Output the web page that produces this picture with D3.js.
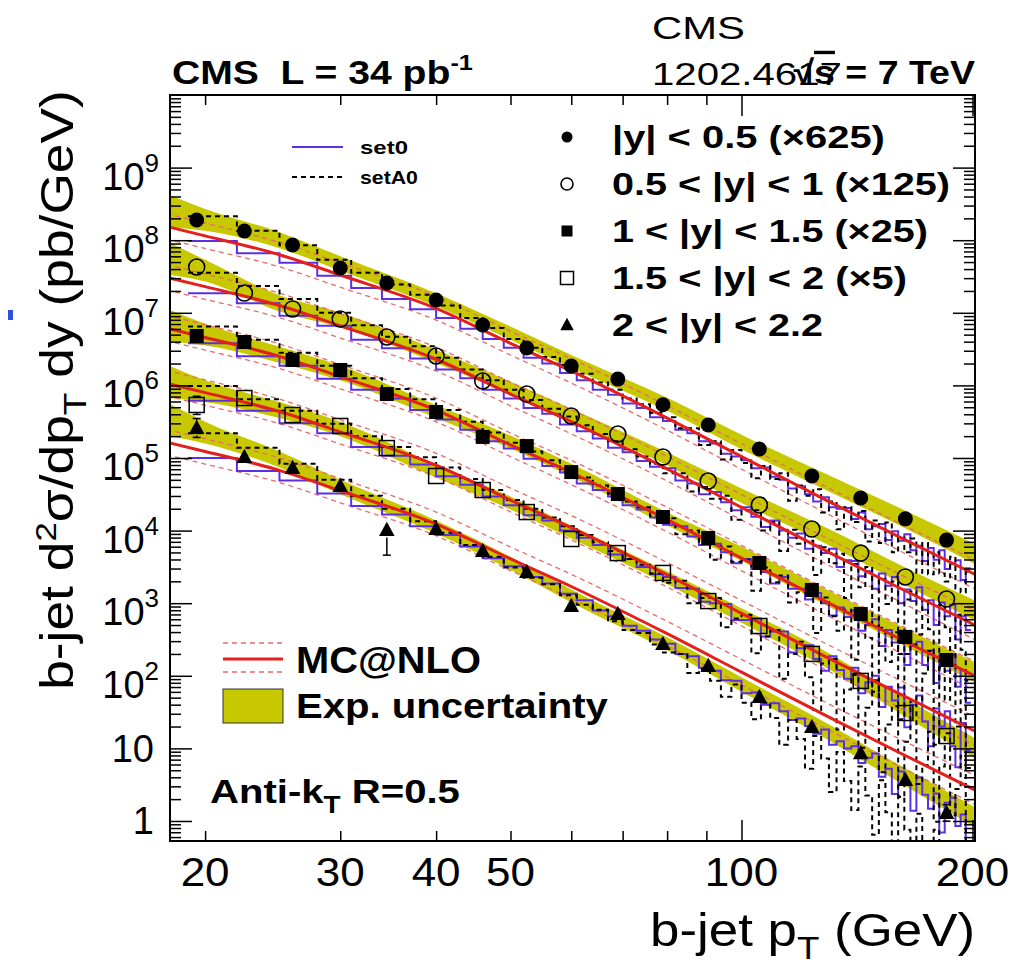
<!DOCTYPE html>
<html><head><meta charset="utf-8">
<script src="https://cdnjs.cloudflare.com/ajax/libs/d3/7.8.5/d3.min.js"></script>
<style>
body{margin:0;background:#fff;}
svg{display:block;}
text{font-family:"Liberation Sans",Arial,Helvetica,sans-serif;fill:#000;}
</style>
</head><body>
<svg id="c" width="1017" height="971"></svg>
<script>
// ---------------- DATA ----------------
// measured b-jet cross sections (pb/GeV, already scaled) at bin centres (GeV)
const binCenters = [19.5,22.5,26,30,34.5,40,46,52.5,60,69,79,90.5,105.5,123.5,143,163.5,185];
const seriesLabels = ["|y| < 0.5 (\u00d7625)","0.5 < |y| < 1 (\u00d7125)","1 < |y| < 1.5 (\u00d725)","1.5 < |y| < 2 (\u00d75)","2 < |y| < 2.2"];
const y1 = [1.9e8,1.34e8,8.6e7,4.14e7,2.57e7,1.5e7,6.8e6,3.27e6,1.85e6,1.22e6,5.4e5,2.85e5,1.33e5,5.65e4,2.81e4,1.45e4,7.4e3];
const y2 = [4.27e7,1.87e7,1.13e7,8.2e6,4.64e6,2.54e6,1.15e6,7.6e5,3.79e5,2.14e5,1.03e5,4.82e4,2.25e4,1.05e4,4.9e3,2.3e3,1.14e3];
const y3 = [4.79e6,3.96e6,2.24e6,1.63e6,7.6e5,4.3e5,1.95e5,1.46e5,6.4e4,3.19e4,1.54e4,7.9e3,3.58e3,1.52e3,710,342,165];
const y4 = [5.37e5,6.7e5,3.91e5,2.76e5,1.37e5,5.65e4,3.62e4,1.8e4,7.66e3,4.9e3,2.61e3,1.07e3,485,200,85,30.7,14.8];
const y5 = [2.59e5,1.03e5,7.3e4,4.11e4,1.02e4,1.05e4,5.24e3,2.69e3,915,710,274,136,51,19.7,8.6,3.67,1.29];
// relative statistical errors (up / down)
const errUp1 = [0.06,0.06,0.06,0.06,0.06,0.06,0.06,0.06,0.06,0.06,0.06,0.06,0.06,0.06,0.08,0.08,0.1];
const errDn1 = [0.06,0.06,0.06,0.06,0.06,0.06,0.06,0.06,0.06,0.06,0.06,0.06,0.06,0.06,0.08,0.08,0.1];
const errUp2 = [0.08,0.06,0.06,0.06,0.06,0.06,0.06,0.06,0.06,0.06,0.06,0.06,0.06,0.07,0.08,0.1,0.12];
const errDn2 = [0.08,0.06,0.06,0.06,0.06,0.06,0.06,0.06,0.06,0.06,0.06,0.06,0.06,0.07,0.08,0.1,0.12];
const errUp3 = [0.1,0.08,0.07,0.07,0.06,0.06,0.06,0.06,0.06,0.06,0.06,0.06,0.07,0.08,0.1,0.12,0.14];
const errDn3 = [0.1,0.08,0.07,0.07,0.06,0.06,0.06,0.06,0.06,0.06,0.06,0.06,0.07,0.08,0.1,0.12,0.14];
const errUp4 = [0.32,0.12,0.1,0.1,0.08,0.08,0.08,0.08,0.08,0.08,0.08,0.08,0.1,0.12,0.15,0.18,0.2];
const errDn4 = [0.26,0.1,0.09,0.09,0.07,0.07,0.07,0.07,0.07,0.07,0.07,0.07,0.09,0.1,0.13,0.15,0.17];
const errUp5 = [0.35,0.25,0.23,0.25,0.26,0.2,0.2,0.15,0.15,0.15,0.15,0.15,0.15,0.18,0.2,0.22,0.3];
const errDn5 = [0.26,0.2,0.19,0.2,0.55,0.17,0.17,0.13,0.13,0.13,0.13,0.13,0.13,0.15,0.17,0.18,0.23];

// smooth curves: nodes in pT (GeV)
const nodePt = [17.8,20,25,30,40,50,60,80,100,130,160,203];
// MC@NLO central prediction, log10(pb/GeV)
const mcLogY1 = [8.19,8.06,7.80,7.52,7.06,6.58,6.20,5.55,5.02,4.40,3.92,3.38];
const mcLogY2 = [7.49,7.36,7.10,6.82,6.36,5.88,5.50,4.85,4.32,3.70,3.22,2.68];
const mcLogY3 = [6.79,6.66,6.40,6.12,5.66,5.18,4.80,4.15,3.62,3.00,2.52,1.98];
const mcLogY4 = [6.03,5.90,5.64,5.36,4.90,4.42,4.04,3.39,2.86,2.24,1.76,1.22];
const mcLogY5 = [5.22,5.09,4.83,4.55,4.09,3.61,3.23,2.58,2.05,1.43,0.95,0.41];
const mcScaleUp = [1.50,1.50,1.48,1.47,1.46,1.46,1.47,1.48,1.50,1.52,1.55,1.58];
const mcScaleDn = [0.67,0.67,0.68,0.68,0.69,0.69,0.68,0.68,0.67,0.66,0.65,0.63];
// experimental uncertainty band: centre log10(pb/GeV) and relative half width
const bandLogY1 = [8.41,8.28,8.00,7.68,7.18,6.72,6.33,5.74,5.22,4.65,4.20,3.66];
const bandLogY2 = [7.76,7.58,7.13,6.90,6.40,5.96,5.59,4.99,4.48,3.91,3.42,2.88];
const bandLogY3 = [6.83,6.70,6.42,6.17,5.64,5.22,4.83,4.16,3.68,3.06,2.58,2.03];
const bandLogY4 = [6.06,5.92,5.66,5.40,4.82,4.38,3.98,3.35,2.83,2.20,1.62,0.98];
const bandLogY5 = [5.54,5.35,4.98,4.60,4.05,3.55,3.10,2.44,1.88,1.22,0.66,0.03];
const bandUnc = [0.70,0.41,0.29,0.26,0.23,0.23,0.23,0.23,0.26,0.29,0.32,0.38];

// MC histograms (3 GeV bins), log10(pb/GeV)
const histEdges = [19,22,25,28,31,34,37,40,43,46,49,52,55,58,61,64,67,70,73,76,79,82,85,88,91,94,97,100,103,106,109,112,115,118,121,124,127,130,133,136,139,142,145,148,151,154,157,160,163,166,169,172,175,178,181,184,187,190,193,196,199];
const set0LogY1 = [7.99,7.82,7.69,7.51,7.34,7.19,7.05,6.93,6.78,6.64,6.52,6.38,6.30,6.17,6.07,5.94,5.87,5.75,5.69,5.56,5.51,5.39,5.34,5.23,5.20,5.06,5.02,4.97,4.86,4.87,4.74,4.70,4.58,4.61,4.50,4.40,4.46,4.32,4.30,4.31,4.16,4.25,4.02,4.06,4.09,3.87,3.99,3.86,3.95,3.73,3.79,3.58,3.76,3.60,3.73,3.47,3.54,3.59,3.32,3.48];
const setA0LogY1 = [8.33,8.13,7.93,7.73,7.55,7.39,7.25,7.10,6.93,6.79,6.64,6.52,6.39,6.28,6.16,6.04,5.94,5.82,5.74,5.62,5.56,5.41,5.41,5.18,5.23,4.98,5.11,4.93,4.72,4.89,4.71,4.79,4.41,4.62,4.48,4.57,4.25,4.40,4.02,4.32,4.12,4.27,3.85,4.14,3.83,4.11,3.70,3.90,3.70,3.89,3.42,3.83,3.40,3.70,3.41,3.30,3.64,3.20,3.15,3.43];
const set0LogY2 = [7.27,7.13,6.96,6.82,6.63,6.51,6.37,6.22,6.10,5.94,5.82,5.69,5.61,5.46,5.37,5.27,5.14,5.08,4.96,4.88,4.86,4.69,4.65,4.50,4.53,4.39,4.28,4.32,4.19,4.05,4.14,4.00,3.90,3.96,3.75,3.79,3.69,3.75,3.50,3.59,3.58,3.37,3.44,3.20,3.41,3.24,3.36,3.00,3.19,3.03,3.22,2.91,3.04,2.70,3.01,2.82,2.98,2.50,2.82,2.63];
const setA0LogY2 = [7.55,7.37,7.19,7.00,6.83,6.67,6.54,6.38,6.22,6.07,5.94,5.80,5.68,5.57,5.45,5.33,5.23,5.12,5.02,4.92,4.79,4.79,4.54,4.60,4.44,4.48,4.15,4.28,4.28,4.00,4.12,3.72,4.01,3.82,3.86,3.39,3.77,3.55,3.68,3.07,3.54,3.22,3.50,2.68,3.33,2.99,3.30,2.30,3.05,3.16,2.57,3.05,2.64,1.95,2.97,2.67,2.24,2.84,2.36,1.93];
const set0LogY3 = [6.58,6.40,6.27,6.09,5.94,5.82,5.66,5.53,5.39,5.23,5.13,4.99,4.89,4.80,4.65,4.56,4.47,4.35,4.29,4.18,4.08,4.06,3.92,3.80,3.82,3.70,3.55,3.61,3.47,3.43,3.27,3.36,3.20,3.20,3.05,3.14,3.00,2.83,2.94,2.81,2.90,2.62,2.70,2.78,2.41,2.63,2.46,2.62,2.15,2.41,2.47,2.15,2.35,1.90,2.29,2.07,2.29,1.85,2.08,1.63];
const setA0LogY3 = [6.81,6.63,6.45,6.27,6.10,5.95,5.81,5.66,5.50,5.35,5.21,5.09,4.97,4.85,4.73,4.62,4.51,4.40,4.32,4.20,4.17,3.95,4.00,3.83,3.60,3.78,3.57,3.60,3.17,3.49,3.29,3.38,3.01,3.15,3.17,2.59,3.08,2.82,2.62,2.91,2.22,2.82,2.52,1.78,2.66,2.19,2.60,1.40,2.30,2.43,1.67,2.03,2.34,1.05,2.11,1.67,2.18,1.30,1.81,0.73];
const set0LogY4 = [5.79,5.65,5.48,5.34,5.15,5.03,4.91,4.75,4.63,4.47,4.35,4.21,4.14,4.00,3.90,3.80,3.67,3.61,3.50,3.40,3.36,3.21,3.20,3.02,3.00,2.99,2.77,2.77,2.79,2.54,2.61,2.61,2.32,2.38,2.42,2.23,2.07,2.27,2.08,1.96,2.11,1.76,1.91,2.00,1.57,1.85,1.66,1.84,1.29,1.60,1.73,1.37,1.03,1.55,1.30,1.51,1.03,0.74,1.35,0.97];
const setA0LogY4 = [5.99,5.81,5.65,5.47,5.30,5.15,5.01,4.87,4.71,4.56,4.42,4.30,4.18,4.06,3.94,3.84,3.72,3.61,3.53,3.41,3.28,3.31,3.00,3.07,3.07,2.67,2.79,2.84,2.31,2.54,2.63,1.96,2.30,2.47,1.98,1.53,2.17,2.23,1.26,1.81,2.01,1.01,1.56,1.94,0.67,1.33,1.58,0.34,1.09,1.65,0.51,0.77,1.23,-0.01,0.75,1.21,0.08,0.44,0.90,-0.33];
const set0LogY5 = [5.00,4.82,4.69,4.51,4.34,4.22,4.06,3.94,3.78,3.62,3.51,3.36,3.27,3.13,3.04,2.90,2.82,2.69,2.62,2.50,2.44,2.30,2.27,2.11,2.07,1.94,1.93,1.76,1.77,1.60,1.62,1.51,1.39,1.41,1.31,1.20,1.26,1.05,1.10,1.00,1.03,0.80,0.87,0.93,0.61,0.72,0.37,0.68,0.53,0.14,0.60,0.36,0.17,0.38,-0.16,0.25,0.32,-0.07,0.09,-0.44];
const setA0LogY5 = [5.34,5.14,4.92,4.70,4.48,4.30,4.13,3.97,3.80,3.64,3.49,3.35,3.26,3.11,2.98,2.91,2.75,2.63,2.59,2.43,2.32,2.30,2.04,2.09,1.93,1.71,1.88,1.63,1.40,1.63,1.42,1.05,1.39,1.13,0.72,1.17,0.86,0.40,0.95,0.55,0.15,0.75,0.35,-0.19,0.56,0.12,-0.43,0.33,-0.12,-0.76,0.10,-0.44,-0.78,-0.12,-1.16,-0.40,-0.73,-1.47,-0.61,-1.04];

// axis tick labels
const xTickLabels = [20,30,40,50,100,200];
const xTicks = [20,30,40,50,60,70,80,90,100,200];
const yTickExp = [0,1,2,3,4,5,6,7,8,9];

// ---------------- DRAW ----------------
const W=1017,H=971,L=170,R=975,T=95,B=841;
const YEL="#c8c800", PUR="#5b2fe6", RED="#e3201b", RDASH="#e86a6a";
const p10 = v => Math.pow(10,v);
const svg = d3.select("#c");
svg.append("rect").attr("width",W).attr("height",H).attr("fill","#fff");
const x = d3.scaleLog().domain([18,201.5]).range([L,R]);
const y = d3.scaleLog().domain([0.53,1e10]).range([B,T]);

svg.append("defs").append("clipPath").attr("id","clip")
  .append("rect").attr("x",L).attr("y",T).attr("width",R-L).attr("height",B-T);
const plot = svg.append("g").attr("clip-path","url(#clip)");

const dataY=[y1,y2,y3,y4,y5];
const errUp=[errUp1,errUp2,errUp3,errUp4,errUp5];
const errDn=[errDn1,errDn2,errDn3,errDn4,errDn5];
const mcLog=[mcLogY1,mcLogY2,mcLogY3,mcLogY4,mcLogY5];
const bandLog=[bandLogY1,bandLogY2,bandLogY3,bandLogY4,bandLogY5];
const set0Log=[set0LogY1,set0LogY2,set0LogY3,set0LogY4,set0LogY5];
const setA0Log=[setA0LogY1,setA0LogY2,setA0LogY3,setA0LogY4,setA0LogY5];

// bands
const area = d3.area().x(d=>x(d.pt)).y0(d=>y(d.lo)).y1(d=>y(d.hi)).curve(d3.curveMonotoneX);
bandLog.forEach(arr=>{
  const pts = nodePt.map((pt,i)=>({pt, hi:p10(arr[i])*(1+bandUnc[i]), lo:p10(arr[i])/(1+bandUnc[i])}));
  plot.append("path").attr("d",area(pts)).attr("fill",YEL);
});
// MC@NLO dashed uncertainty
const smooth = d3.line().x(d=>x(d[0])).y(d=>y(d[1])).curve(d3.curveMonotoneX);
mcLog.forEach(arr=>{
  [mcScaleUp,mcScaleDn].forEach(sc=>{
    plot.append("path").attr("d",smooth(nodePt.map((pt,i)=>[pt,p10(arr[i])*sc[i]])))
      .attr("fill","none").attr("stroke",RDASH).attr("stroke-width",1.3).attr("stroke-dasharray","5,4");
  });
});
// histograms
const step = d3.line().x(d=>x(d[0])).y(d=>y(d[1])).curve(d3.curveStepAfter);
function histPts(arr){
  const pts = arr.map((v,i)=>[histEdges[i],p10(v)]);
  pts.push([histEdges[arr.length],p10(arr[arr.length-1])]);
  return pts;
}
set0Log.forEach(arr=>{
  plot.append("path").attr("d",step(histPts(arr))).attr("fill","none").attr("stroke",PUR).attr("stroke-width",2);
});
setA0Log.forEach(arr=>{
  plot.append("path").attr("d",step(histPts(arr))).attr("fill","none").attr("stroke","#000")
    .attr("stroke-width",2).attr("stroke-dasharray","5,4");
});
// MC@NLO central
mcLog.forEach(arr=>{
  plot.append("path").attr("d",smooth(nodePt.map((pt,i)=>[pt,p10(arr[i])])))
    .attr("fill","none").attr("stroke",RED).attr("stroke-width",3);
});
// data markers
const mType=["circleF","circleO","squareF","squareO","triF"];
function marker(g,type,cx,cy,s){
  if(type==="circleF") g.append("circle").attr("cx",cx).attr("cy",cy).attr("r",s*0.5).attr("fill","#000");
  else if(type==="circleO") g.append("circle").attr("cx",cx).attr("cy",cy).attr("r",s*0.5).attr("fill","none").attr("stroke","#000").attr("stroke-width",1.6);
  else if(type==="squareF") g.append("rect").attr("x",cx-s/2).attr("y",cy-s/2).attr("width",s).attr("height",s).attr("fill","#000");
  else if(type==="squareO") g.append("rect").attr("x",cx-s/2).attr("y",cy-s/2).attr("width",s).attr("height",s).attr("fill","none").attr("stroke","#000").attr("stroke-width",1.5);
  else g.append("path").attr("d",`M${cx},${cy-s*0.55}L${cx+s*0.52},${cy+s*0.4}L${cx-s*0.52},${cy+s*0.4}Z`).attr("fill","#000");
}
const mSize=[15,16,14,15,15];
dataY.forEach((arr,s)=>{
  const g = plot.append("g");
  arr.forEach((v,i)=>{
    const cx=x(binCenters[i]), cy=y(v), r=mSize[s]/2;
    const yt=y(v*(1+errUp[s][i])), yb=y(v*(1-errDn[s][i]));
    if(cy-yt>r){ g.append("line").attr("x1",cx).attr("x2",cx).attr("y1",cy-r).attr("y2",yt).attr("stroke","#000").attr("stroke-width",1.5);
      g.append("line").attr("x1",cx-4).attr("x2",cx+4).attr("y1",yt).attr("y2",yt).attr("stroke","#000").attr("stroke-width",1.5);}
    if(yb-cy>r){ g.append("line").attr("x1",cx).attr("x2",cx).attr("y1",cy+r).attr("y2",yb).attr("stroke","#000").attr("stroke-width",1.5);
      g.append("line").attr("x1",cx-4).attr("x2",cx+4).attr("y1",yb).attr("y2",yb).attr("stroke","#000").attr("stroke-width",1.5);}
    marker(g,mType[s],cx,cy,mSize[s]);
  });
});

// ---------------- AXES ----------------
const yMinor=[], yMajor=[];
for(let e=-1;e<=9;e++){ for(let k=1;k<=9;k++){ const v=k*Math.pow(10,e); if(v>=0.53&&v<=1e10){ (k===1?yMajor:yMinor).push(v);} } }
function styleAxis(g){ g.select(".domain").remove(); g.selectAll("line").attr("stroke","#000").attr("stroke-width",1.5); g.selectAll("text").remove(); }
svg.append("g").attr("transform",`translate(${L},0)`).call(d3.axisRight(y).tickValues(yMajor).tickSize(22).tickFormat("")).call(styleAxis);
svg.append("g").attr("transform",`translate(${L},0)`).call(d3.axisRight(y).tickValues(yMinor).tickSize(11).tickFormat("")).call(styleAxis);
svg.append("g").attr("transform",`translate(${R},0)`).call(d3.axisLeft(y).tickValues(yMajor).tickSize(22).tickFormat("")).call(styleAxis);
svg.append("g").attr("transform",`translate(${R},0)`).call(d3.axisLeft(y).tickValues(yMinor).tickSize(11).tickFormat("")).call(styleAxis);
const xMaj=xTicks.filter(v=>v===100||v===200), xMin=xTicks.filter(v=>v!==100&&v!==200);
svg.append("g").attr("transform",`translate(0,${B})`).call(d3.axisTop(x).tickValues(xMaj).tickSize(21).tickFormat("")).call(styleAxis);
svg.append("g").attr("transform",`translate(0,${B})`).call(d3.axisTop(x).tickValues(xMin).tickSize(10).tickFormat("")).call(styleAxis);
svg.append("g").attr("transform",`translate(0,${T})`).call(d3.axisBottom(x).tickValues(xMaj).tickSize(21).tickFormat("")).call(styleAxis);
svg.append("g").attr("transform",`translate(0,${T})`).call(d3.axisBottom(x).tickValues(xMin).tickSize(10).tickFormat("")).call(styleAxis);
svg.append("rect").attr("x",L).attr("y",T).attr("width",R-L).attr("height",B-T).attr("fill","none").attr("stroke","#000").attr("stroke-width",2);

// ---------------- TEXT ----------------
function stretch(sel,ax,target){
  const w=sel.node().getBBox().width; if(!w) return;
  const k=target/w;
  sel.attr("transform",`translate(${ax},0) scale(${k},1) translate(${-ax},0)`);
}
function stretchK(sel,ax,k){ sel.attr("transform",`translate(${ax},0) scale(${k},1) translate(${-ax},0)`); }

// y tick labels
yTickExp.forEach(e=>{
  const ty=y(Math.pow(10,e));
  if(e===0){ svg.append("text").attr("x",154).attr("y",ty+13).attr("text-anchor","end").attr("font-size",38).text("1"); }
  else if(e===1){ svg.append("text").attr("x",154).attr("y",ty+14).attr("text-anchor","end").attr("font-size",38).text("10"); }
  else {
    const t=svg.append("text").attr("x",159).attr("y",ty+22).attr("text-anchor","end").attr("font-size",38);
    t.append("tspan").text("10");
    t.append("tspan").attr("font-size",26).attr("dy",-18).text(String(e));
  }
});
// x tick labels
xTickLabels.forEach(v=>{
  const t=svg.append("text").attr("x",x(v)).attr("y",886).attr("text-anchor","middle").attr("font-size",40).text(String(v));
  stretchK(t,x(v),1.1);
});
// x title
{
  const t=svg.append("text").attr("x",975).attr("y",946).attr("text-anchor","end").attr("font-size",46);
  t.append("tspan").text("b-jet p");
  t.append("tspan").attr("font-size",32).attr("dy",13).text("T");
  t.append("tspan").attr("dy",-13).text("\u00a0(GeV)");
  stretch(t,975,325);
}
// y title
{
  const g=svg.append("g").attr("transform","translate(73,390) rotate(-90)");
  const t=g.append("text").attr("x",0).attr("y",0).attr("text-anchor","middle").attr("font-size",46);
  t.append("tspan").text("b-jet d");
  t.append("tspan").attr("font-size",30).attr("dy",-17).text("2");
  t.append("tspan").attr("dy",17).text("\u03c3/dp");
  t.append("tspan").attr("font-size",32).attr("dy",13).text("T");
  t.append("tspan").attr("dy",-13).text("\u00a0dy (pb/GeV)");
  stretch(t,0,600);
}
// header
{
  const t=svg.append("text").attr("x",172).attr("y",84).attr("font-size",34).attr("font-weight","bold").style("white-space","pre");
  t.append("tspan").text("CMS  L = 34 pb");
  t.append("tspan").attr("font-size",22).attr("dy",-14).text("-1");
  stretch(t,172,301);
  const c=svg.append("text").attr("x",652).attr("y",39).attr("font-size",32).text("CMS");
  stretch(c,652,93);
  const a=svg.append("text").attr("x",652).attr("y",85).attr("font-size",32).text("1202.4617");
  stretch(a,652,190);
  const s=svg.append("text").attr("x",975).attr("y",84).attr("text-anchor","end").attr("font-size",34).attr("font-weight","bold");
  s.append("tspan").text("\u221a");
  s.append("tspan").style("text-decoration","overline").text("s");
  s.append("tspan").text(" = 7 TeV");
  stretch(s,975,182);
}
// legend top right
const legY=[137,184,231,278,325], legW=[273,338,316,295,211], legSize=[11,12,11,13,13];
seriesLabels.forEach((lab,i)=>{
  marker(svg,mType[i],567,legY[i],legSize[i]);
  const t=svg.append("text").attr("x",612).attr("y",legY[i]+11).attr("font-size",31).attr("font-weight","bold").style("white-space","pre").text(lab);
  stretch(t,612,legW[i]);
});
// small set0/setA0 legend
svg.append("line").attr("x1",292).attr("x2",343).attr("y1",147).attr("y2",147).attr("stroke",PUR).attr("stroke-width",2);
svg.append("line").attr("x1",292).attr("x2",343).attr("y1",177).attr("y2",177).attr("stroke","#000").attr("stroke-width",2).attr("stroke-dasharray","5,4");
stretch(svg.append("text").attr("x",360).attr("y",154).attr("font-size",19).attr("font-weight","bold").text("set0"),360,48);
stretch(svg.append("text").attr("x",360).attr("y",184).attr("font-size",19).attr("font-weight","bold").text("setA0"),360,58);
// MC@NLO / Exp. uncertainty legend
svg.append("line").attr("x1",223).attr("x2",283).attr("y1",643).attr("y2",643).attr("stroke",RDASH).attr("stroke-width",1.3).attr("stroke-dasharray","5,4");
svg.append("line").attr("x1",223).attr("x2",283).attr("y1",672).attr("y2",672).attr("stroke",RDASH).attr("stroke-width",1.3).attr("stroke-dasharray","5,4");
svg.append("line").attr("x1",223).attr("x2",283).attr("y1",659).attr("y2",659).attr("stroke",RED).attr("stroke-width",3);
stretch(svg.append("text").attr("x",296).attr("y",673).attr("font-size",37).attr("font-weight","bold").text("MC@NLO"),296,185);
svg.append("rect").attr("x",223).attr("y",689).attr("width",60).attr("height",34).attr("fill",YEL).attr("stroke","#333").attr("stroke-width",1);
stretch(svg.append("text").attr("x",296).attr("y",718).attr("font-size",36).attr("font-weight","bold").text("Exp. uncertainty"),296,312);
{
  const t=svg.append("text").attr("x",210).attr("y",803).attr("font-size",33).attr("font-weight","bold");
  t.append("tspan").text("Anti-k");
  t.append("tspan").attr("font-size",23).attr("dy",10).text("T");
  t.append("tspan").attr("dy",-10).text("\u00a0R=0.5");
  stretch(t,210,250);
}
// small blue artefact at the left margin
svg.append("rect").attr("x",8).attr("y",310).attr("width",5).attr("height",10).attr("fill","#2b4fe0");
</script>
</body></html>
